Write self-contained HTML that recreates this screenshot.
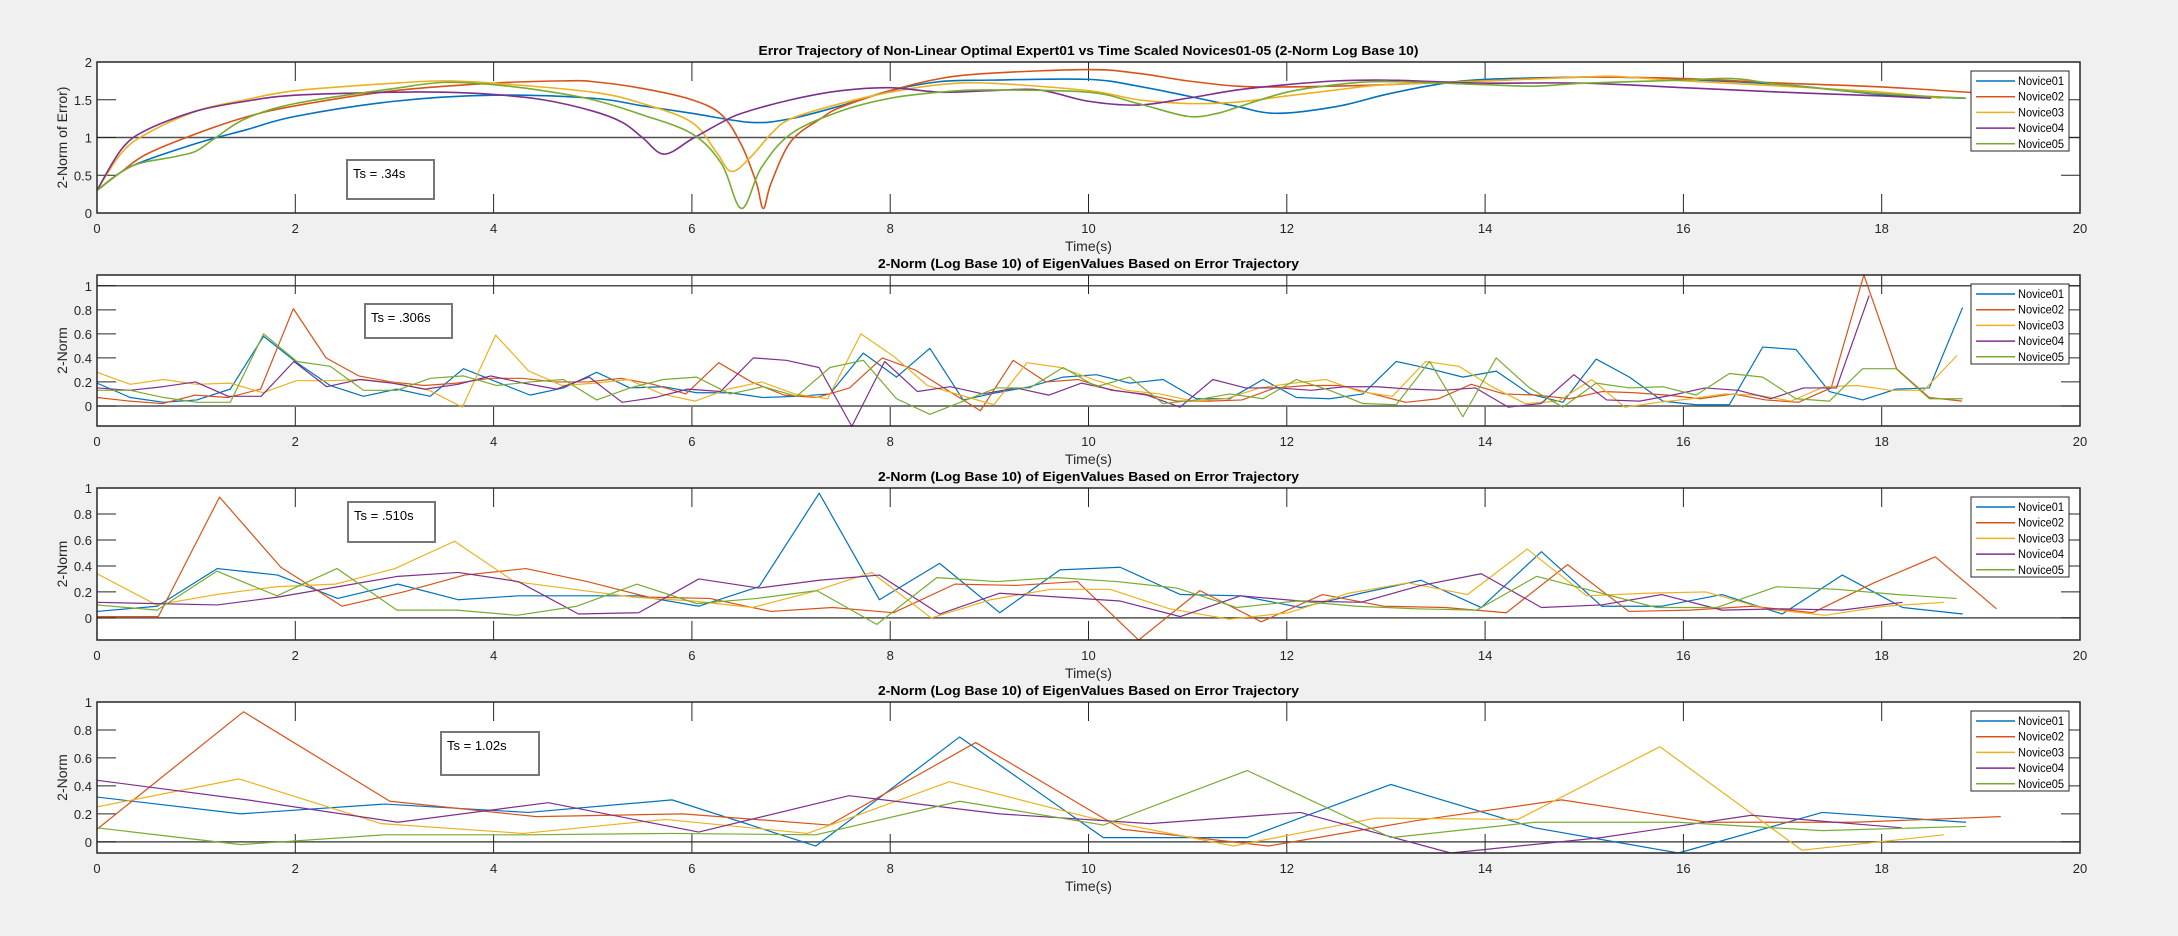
<!DOCTYPE html>
<html><head><meta charset="utf-8"><style>
html,body{margin:0;padding:0;background:#f0f0f0;}
svg{display:block;font-family:"Liberation Sans",Arial,sans-serif;}
</style></head><body>
<svg id="fig" width="2178" height="936" viewBox="0 0 2178 936" xmlns="http://www.w3.org/2000/svg"></svg>
<script>
// ---------- Plot 1 data (smooth error trajectories) ----------
const p1_t01=[0,0.35,1,1.5,2,3,4,5,5.5,6,6.6,7,7.5,8,8.5,9,10,10.5,11,11.5,11.9,12.5,13,13.5,14,15,15.3,16,17,18,18.85];
const p1_v01=[0.3,0.62,0.92,1.1,1.28,1.48,1.56,1.52,1.42,1.32,1.2,1.25,1.42,1.62,1.74,1.76,1.77,1.68,1.55,1.41,1.32,1.41,1.57,1.7,1.77,1.8,1.8,1.77,1.7,1.57,1.52];
const p1_t02=[0,0.25,0.5,1,1.5,2,3,4,4.7,5,5.5,6,6.3,6.5,6.65,6.72,6.8,7,7.3,7.5,8,8.5,9,10,10.5,11,11.5,12,13,14,15,16,17,18,19.2];
const p1_v02=[0.3,0.55,0.78,1.05,1.27,1.42,1.62,1.72,1.75,1.74,1.65,1.5,1.3,0.9,0.4,0.06,0.4,0.95,1.25,1.4,1.62,1.78,1.85,1.9,1.85,1.75,1.68,1.67,1.7,1.75,1.8,1.78,1.72,1.67,1.57];
const p1_t03=[0,0.25,0.5,1,1.5,2,3,3.5,4,5,5.5,6,6.25,6.4,6.6,6.8,7,7.5,8,8.5,9,10,10.5,11,11.5,12,12.5,13,14,15,15.3,16,17,18,18.6];
const p1_v03=[0.3,0.8,1.05,1.35,1.5,1.62,1.72,1.75,1.72,1.6,1.45,1.2,0.8,0.55,0.75,1.05,1.25,1.45,1.6,1.7,1.72,1.62,1.5,1.45,1.47,1.55,1.63,1.7,1.75,1.8,1.81,1.75,1.68,1.6,1.52];
const p1_t04=[0,0.25,0.5,1,1.5,2,3,3.5,4,4.5,5,5.3,5.5,5.72,6,6.3,6.5,7,7.5,8,8.5,9,9.5,10,10.5,11,11.5,12,12.5,13,13.5,14,15,16,17,18,18.5];
const p1_v04=[0.3,0.85,1.1,1.35,1.48,1.56,1.6,1.6,1.57,1.5,1.35,1.2,1.0,0.78,0.98,1.2,1.32,1.5,1.62,1.66,1.6,1.62,1.63,1.48,1.43,1.52,1.63,1.7,1.75,1.76,1.74,1.72,1.72,1.66,1.6,1.55,1.52];
const p1_t05=[0,0.35,0.8,1,1.2,1.5,2,3,3.5,4,4.5,5,5.5,6,6.3,6.5,6.7,7,7.5,8,8.5,9,10,10.5,11,11.3,11.5,12,12.5,13,14,14.5,15,16,16.5,17,18,18.85];
const p1_v05=[0.3,0.62,0.75,0.82,1.0,1.25,1.45,1.65,1.73,1.7,1.62,1.5,1.3,1.05,0.65,0.06,0.6,1.05,1.35,1.52,1.6,1.63,1.6,1.45,1.28,1.32,1.4,1.6,1.7,1.74,1.7,1.68,1.72,1.76,1.78,1.7,1.58,1.52];

// ---------- Plot 2 data (Ts = .306s) ----------
const p2_dt=[0.336,0.33,0.335,0.331,0.336];
const p2_v01=[0.19,0.07,0.03,0.05,0.14,0.58,0.36,0.17,0.08,0.14,0.08,0.31,0.2,0.09,0.15,0.28,0.15,0.16,0.11,0.11,0.07,0.08,0.1,0.44,0.24,0.48,0.05,0.11,0.16,0.24,0.26,0.19,0.22,0.06,0.06,0.22,0.07,0.06,0.1,0.37,0.31,0.24,0.29,0.1,0.03,0.39,0.24,0.04,0.01,0.01,0.49,0.47,0.12,0.05,0.14,0.15,0.82];
const p2_v02=[0.07,0.04,0.02,0.09,0.07,0.14,0.81,0.4,0.25,0.2,0.17,0.19,0.23,0.23,0.2,0.2,0.23,0.18,0.1,0.36,0.2,0.09,0.07,0.15,0.4,0.3,0.13,-0.04,0.38,0.2,0.22,0.13,0.1,0.04,0.04,0.05,0.15,0.17,0.17,0.1,0.03,0.06,0.18,0.1,0.09,0.06,0.12,0.11,0.09,0.06,0.1,0.05,0.03,0.15,1.09,0.31,0.07,0.04];
const p2_v03=[0.28,0.18,0.22,0.18,0.19,0.11,0.21,0.21,0.22,0.19,0.13,-0.01,0.59,0.29,0.17,0.19,0.22,0.1,0.04,0.14,0.2,0.1,0.06,0.6,0.41,0.17,0.09,0.01,0.36,0.32,0.22,0.13,0.1,0.04,0.06,0.15,0.19,0.22,0.12,0.08,0.37,0.33,0.16,0.02,0.04,0.22,-0.01,0.03,0.06,0.1,0.09,0.04,0.16,0.17,0.13,0.13,0.42];
const p2_v04=[0.15,0.13,0.16,0.2,0.08,0.08,0.37,0.16,0.22,0.19,0.14,0.18,0.25,0.19,0.14,0.24,0.03,0.07,0.14,0.12,0.4,0.38,0.32,-0.17,0.37,0.12,0.16,0.1,0.15,0.09,0.19,0.13,0.09,-0.01,0.22,0.15,0.15,0.13,0.16,0.16,0.14,0.13,0.15,-0.01,0.02,0.26,0.05,0.04,0.09,0.15,0.13,0.06,0.15,0.15,0.92];
const p2_v05=[0.13,0.13,0.07,0.03,0.03,0.6,0.37,0.33,0.13,0.13,0.23,0.25,0.17,0.2,0.22,0.05,0.15,0.22,0.24,0.1,0.16,0.08,0.32,0.38,0.06,-0.07,0.04,0.15,0.15,0.32,0.16,0.24,0.02,0.05,0.1,0.06,0.22,0.13,0.02,0.01,0.37,-0.09,0.4,0.15,-0.01,0.19,0.15,0.16,0.09,0.27,0.24,0.06,0.04,0.31,0.31,0.06,0.06];

// ---------- Plot 3 data (Ts = .510s) ----------
const p3_dt=[0.607,0.618,0.601,0.607,0.605];
const p3_v01=[0.05,0.09,0.38,0.33,0.15,0.26,0.14,0.17,0.17,0.17,0.09,0.24,0.96,0.14,0.42,0.04,0.37,0.39,0.18,0.17,0.08,0.19,0.29,0.08,0.51,0.09,0.09,0.18,0.03,0.33,0.08,0.03];
const p3_v02=[0.01,0.01,0.93,0.39,0.09,0.2,0.33,0.38,0.28,0.16,0.15,0.05,0.08,0.04,0.26,0.25,0.28,-0.17,0.21,-0.03,0.18,0.09,0.08,0.04,0.41,0.05,0.06,0.09,0.04,0.27,0.47,0.07];
const p3_v03=[0.34,0.1,0.18,0.24,0.26,0.38,0.59,0.28,0.22,0.16,0.13,0.08,0.2,0.35,0.0,0.14,0.22,0.22,0.07,-0.01,0.04,0.19,0.27,0.18,0.53,0.17,0.19,0.2,0.07,0.02,0.09,0.12];
const p3_v04=[0.12,0.11,0.1,0.16,0.24,0.32,0.35,0.28,0.03,0.04,0.3,0.23,0.29,0.33,0.03,0.19,0.16,0.13,0.01,0.17,0.13,0.12,0.25,0.34,0.08,0.1,0.18,0.06,0.07,0.06,0.12];
const p3_v05=[0.1,0.06,0.36,0.17,0.38,0.06,0.06,0.02,0.09,0.26,0.11,0.15,0.21,-0.05,0.31,0.28,0.31,0.28,0.23,0.08,0.13,0.09,0.07,0.06,0.32,0.2,0.08,0.08,0.24,0.22,0.18,0.15];

// ---------- Plot 4 data (Ts = 1.02s) ----------
const p4_dt=[1.45,1.477,1.433,1.517,1.45];
const p4_v01=[0.32,0.2,0.27,0.21,0.3,-0.03,0.75,0.03,0.03,0.41,0.1,-0.08,0.21,0.14];
const p4_v02=[0.09,0.93,0.29,0.18,0.2,0.12,0.71,0.09,-0.03,0.15,0.3,0.14,0.14,0.18];
const p4_v03=[0.25,0.45,0.13,0.06,0.16,0.06,0.43,0.17,-0.03,0.17,0.16,0.68,-0.06,0.05];
const p4_v04=[0.44,0.3,0.14,0.28,0.07,0.33,0.2,0.13,0.21,-0.08,0.03,0.19,0.1];
const p4_v05=[0.1,-0.02,0.05,0.05,0.06,0.05,0.29,0.12,0.51,0.03,0.14,0.14,0.08,0.11];

const xTicks=[0,2,4,6,8,10,12,14,16,18,20];
const legendNames=["Novice01","Novice02","Novice03","Novice04","Novice05"];
const colors=["#0072BD","#D95319","#EDB120","#7E2F8E","#77AC30"];

const NS="http://www.w3.org/2000/svg";
const svg=document.getElementById('fig');
function mk(tag,attrs,parent){const e=document.createElementNS(NS,tag);for(const k in attrs)e.setAttribute(k,attrs[k]);(parent||svg).appendChild(e);return e;}

const X0=97,X1=2080;
function sx(t){return X0+(t/20)*(X1-X0);}

function axes(cfg,idx){
  const g=mk('g',{});
  
  
  const sy=v=>cfg.bot-(v-cfg.ymin)/(cfg.ymax-cfg.ymin)*(cfg.bot-cfg.top);
  const bg=mk('rect',{x:X0,y:cfg.top,width:X1-X0,height:cfg.bot-cfg.top,fill:'#fff'},g);
  
  
  // ref lines
  cfg.ref.forEach(v=>{const l=mk('line',{x1:X0,x2:X1,y1:sy(v),y2:sy(v),stroke:'#505050','stroke-width':1.5},g);
    
    });
  // ticks
  xTicks.forEach(t=>{const x=sx(t);
    mk('line',{x1:x,x2:x,y1:cfg.bot,y2:cfg.bot-19,stroke:'#262626','stroke-width':1},g);
    mk('line',{x1:x,x2:x,y1:cfg.top,y2:cfg.top+19,stroke:'#262626','stroke-width':1},g);
    const tx=mk('text',{x:x,y:cfg.bot+20,'text-anchor':'middle','font-size':13,fill:'#262626'},g);
    tx.textContent=t;
    
    });
  cfg.yt.forEach(v=>{const y=sy(v);
    mk('line',{x1:X0,x2:X0+19,y1:y,y2:y,stroke:'#262626','stroke-width':1},g);
    mk('line',{x1:X1,x2:X1-19,y1:y,y2:y,stroke:'#262626','stroke-width':1},g);
    const tx=mk('text',{x:X0-5,y:y+5,'text-anchor':'end','font-size':13,fill:'#262626'},g);
    tx.textContent=String(v);
    
    });
  // series
  cfg.series.forEach((s,i)=>{
    let pts=s.t.map((t,j)=>[sx(t),sy(s.v[j])]);
    let d;
    if(cfg.smooth){d='M'+pts[0][0]+','+pts[0][1];
      for(let j=0;j<pts.length-1;j++){const p0=pts[Math.max(0,j-1)],p1=pts[j],p2=pts[j+1],p3=pts[Math.min(pts.length-1,j+2)];
        const c1=[p1[0]+(p2[0]-p0[0])/6,p1[1]+(p2[1]-p0[1])/6],c2=[p2[0]-(p3[0]-p1[0])/6,p2[1]-(p3[1]-p1[1])/6];
        d+=` C${c1[0]},${c1[1]} ${c2[0]},${c2[1]} ${p2[0]},${p2[1]}`;}
    } else d='M'+pts.map(p=>p.join(',')).join(' L');
    const p=mk('path',{d:d,fill:'none',stroke:colors[i],'stroke-width':cfg.smooth?1.6:1.2,'stroke-linejoin':'round'},g);
    
    
  });
  // box
  const bx=mk('rect',{x:X0,y:cfg.top,width:X1-X0,height:cfg.bot-cfg.top,fill:'none',stroke:'#262626','stroke-width':1.5},g);
  
  
  // title
  const ti=mk('text',{x:(X0+X1)/2,y:cfg.top-7,'text-anchor':'middle','font-size':13,'font-weight':'bold',fill:'#000',textLength:cfg.tl,lengthAdjust:'spacingAndGlyphs'},g);
  ti.textContent=cfg.title;
  
  
  const xl=mk('text',{x:(X0+X1)/2,y:cfg.bot+38,'text-anchor':'middle','font-size':14,fill:'#262626'},g);
  xl.textContent='Time(s)';
  
  
  const cy=(cfg.top+cfg.bot)/2;
  const yl=mk('text',{x:67,y:cy,'text-anchor':'middle','font-size':14,fill:'#262626',transform:`rotate(-90 67 ${cy})`},g);
  yl.textContent=cfg.ylab;
  
  
  // Ts box
  const tb=mk('rect',{x:cfg.ts[0],y:cfg.ts[1],width:cfg.ts[2],height:cfg.ts[3],fill:'#fff',stroke:'#777','stroke-width':2},g);
  
  
  const tt=mk('text',{x:cfg.ts[0]+6,y:cfg.ts[1]+18,'font-size':13,fill:'#000'},g);
  tt.textContent=cfg.tsText;
  
  
  // legend
  const lg=mk('g',{},g);
  
  
  const ly=cfg.leg;
  mk('rect',{x:1971,y:ly,width:98,height:80,fill:'#fff',stroke:'#262626','stroke-width':1},lg);
  legendNames.forEach((n,i)=>{const yy=ly+10+i*15.7;
    const e=mk('g',{},lg);
    
    
    mk('line',{x1:1976,x2:2015,y1:yy,y2:yy,stroke:colors[i],'stroke-width':1.5},e);
    const t=mk('text',{x:2018,y:yy+4,'font-size':11.5,fill:'#000',textLength:46,lengthAdjust:'spacingAndGlyphs'},e);
    t.textContent=n;});
}

function tArr(dt,n){const a=[];for(let i=0;i<n;i++)a.push(i*dt);return a;}
function ser(dts,vals){return vals.map((v,i)=>({t:tArr(dts[i],v.length),v:v}));}

const yt5=[0,0.2,0.4,0.6,0.8,1];
axes({top:62,bot:213,ymin:0,ymax:2,yt:[0,0.5,1,1.5,2],ref:[1],smooth:true,
  title:'Error Trajectory of Non-Linear Optimal Expert01 vs Time Scaled Novices01-05 (2-Norm Log Base 10)',tl:660,
  ylab:'2-Norm of Error)',ts:[347,160,87,39],tsText:'Ts = .34s',leg:71,
  series:[{t:p1_t01,v:p1_v01},{t:p1_t02,v:p1_v02},{t:p1_t03,v:p1_v03},{t:p1_t04,v:p1_v04},{t:p1_t05,v:p1_v05}]},1);
axes({top:275,bot:426,ymin:-0.167,ymax:1.09,yt:yt5,ref:[0,1],smooth:false,
  title:'2-Norm (Log Base 10) of EigenValues Based on Error Trajectory',tl:421,
  ylab:'2-Norm',ts:[365,304,87,34],tsText:'Ts = .306s',leg:284,
  series:ser(p2_dt,[p2_v01,p2_v02,p2_v03,p2_v04,p2_v05])},2);
axes({top:488,bot:640,ymin:-0.17,ymax:1,yt:yt5,ref:[0],smooth:false,
  title:'2-Norm (Log Base 10) of EigenValues Based on Error Trajectory',tl:421,
  ylab:'2-Norm',ts:[348,502,87,40],tsText:'Ts = .510s',leg:497,
  series:ser(p3_dt,[p3_v01,p3_v02,p3_v03,p3_v04,p3_v05])},3);
axes({top:702,bot:853,ymin:-0.08,ymax:1,yt:yt5,ref:[0],smooth:false,
  title:'2-Norm (Log Base 10) of EigenValues Based on Error Trajectory',tl:421,
  ylab:'2-Norm',ts:[441,732,98,43],tsText:'Ts = 1.02s',leg:711,
  series:ser(p4_dt,[p4_v01,p4_v02,p4_v03,p4_v04,p4_v05])},4);
</script>
</body></html>
